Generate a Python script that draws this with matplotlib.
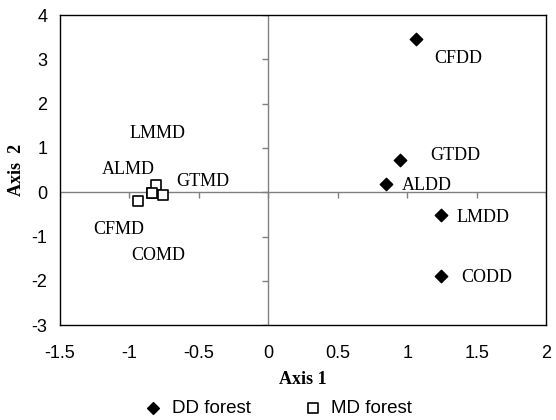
import numpy as np
import matplotlib.pyplot as plt

# Ordination scores
dd_names = ['CFDD', 'GTDD', 'ALDD', 'LMDD', 'CODD']
dd_x = [1.065, 0.95, 0.85, 1.245, 1.245]
dd_y = [3.45, 0.72, 0.18, -0.52, -1.9]

md_names = ['LMMD', 'ALMD', 'GTMD', 'CFMD', 'COMD']
md_x = [-0.84, -0.806, -0.755, -0.935, -0.84]
md_y = [-0.02, 0.16, -0.07, -0.2, -0.02]

# label positions (data coords)
dd_lab = [(1.37, 3.02), (1.345, 0.84), (1.14, 0.16), (1.55, -0.56), (1.575, -1.92)]
md_lab = [(-0.80, 1.33), (-1.01, 0.52), (-0.47, 0.25), (-1.08, -0.84), (-0.79, -1.42)]

xticks = [-1.5, -1, -0.5, 0, 0.5, 1, 1.5, 2]
yticks = [-3, -2, -1, 0, 1, 2, 3, 4]

fig = plt.figure(figsize=(5.56, 4.2), dpi=100)
ax = fig.add_axes([0.108, 0.226, 0.874, 0.738])

ax.axhline(0, color='#808080', lw=1, zorder=1)
ax.axvline(0, color='#808080', lw=1, zorder=1)
# tick marks sit on the zero lines
ax.plot(xticks, [0] * len(xticks), ls='none', marker=3, ms=4, mew=1, color='#808080', zorder=1)
ax.plot([0] * len(yticks), yticks, ls='none', marker=0, ms=4, mew=1, color='#808080', zorder=1)

ax.scatter(dd_x, dd_y, marker='D', s=40, color='black', zorder=3, label='DD forest')
ax.scatter(md_x, md_y, marker='s', s=60, facecolor='white', edgecolor='black', lw=1.2,
           zorder=3, label='MD forest')

serif = 'Liberation Serif'
for n, (tx, ty) in zip(dd_names, dd_lab):
    ax.text(tx, ty, n, ha='center', va='center', fontsize=13, family=serif)
for n, (tx, ty) in zip(md_names, md_lab):
    ax.text(tx, ty, n, ha='center', va='center', fontsize=13, family=serif)

ax.set_xlim(-1.5, 2)
ax.set_ylim(-3, 4)
ax.set_xticks(xticks)
ax.set_xticklabels(['-1.5', '-1', '-0.5', '0', '0.5', '1', '1.5', '2'])
ax.set_yticks(yticks)
ax.set_yticklabels([str(t) for t in yticks])
ax.tick_params(length=0, labelsize=13)
ax.tick_params(axis='x', pad=14)
ax.tick_params(axis='y', pad=9)
for lbl in ax.get_xticklabels() + ax.get_yticklabels():
    lbl.set_family('Liberation Sans')
for s in ax.spines.values():
    s.set_color('black')
    s.set_linewidth(1)

ax.set_xlabel('Axis 1', fontsize=13, fontweight='bold', family=serif, labelpad=7)
ax.set_ylabel('Axis  2', fontsize=13, fontweight='bold', family=serif, labelpad=5)

fig.legend(loc='center', bbox_to_anchor=(0.5, 0.028), ncol=2, frameon=False,
           prop={'family': 'Liberation Sans', 'size': 13.5}, handlelength=1.0,
           handletextpad=0.5, columnspacing=2.8, markerscale=0.95)

fig.savefig('out.png', dpi=100)
